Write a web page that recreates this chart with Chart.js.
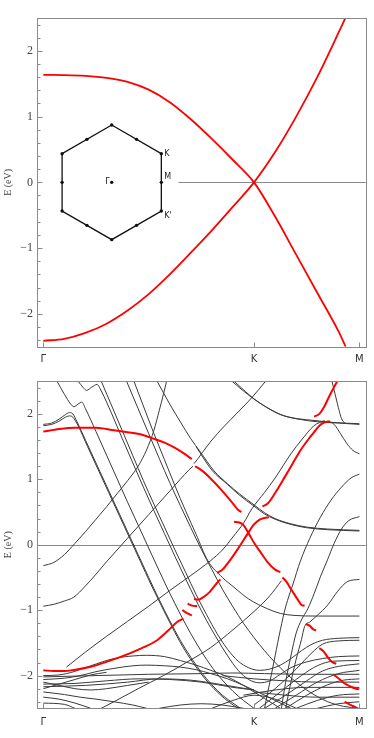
<!DOCTYPE html>
<html>
<head>
<meta charset="utf-8">
<script src="https://cdn.jsdelivr.net/npm/chart.js@4.4.1/dist/chart.umd.min.js"></script>
<style>
  html, body { margin: 0; padding: 0; background: #fff; }
  #wrap { position: relative; width: 374px; height: 738px; }
  canvas { position: absolute; left: 0; }
  #c1 { top: 0; }
  #c2 { top: 370px; }
</style>
</head>
<body>
<div id="wrap">
  <canvas id="c1" width="374" height="370"></canvas>
  <canvas id="c2" width="374" height="368"></canvas>
</div>
<script>
// k-path: Gamma = 0, K = 2, M = 3
var kTicks = [0, 2, 3];
var kLabels = ['\u0393', 'K', 'M'];
var eTicks = [-2, -1, 0, 1, 2];

// ---- top panel: pristine bands [k, E] ----
var topUpper = [[0,1.635],[0.2,1.632],[0.4,1.62],[0.6,1.59],[0.8,1.53],[1.0,1.41],[1.2,1.22],[1.4,0.96],[1.6,0.66],[1.8,0.34],[2.0,0],[2.2,-0.52],[2.4,-1.1],[2.6,-1.68],[2.8,-2.26],[2.87,-2.5]];
var topLower = [[0,-2.41],[0.2,-2.38],[0.4,-2.29],[0.6,-2.15],[0.8,-1.95],[1.0,-1.70],[1.2,-1.40],[1.4,-1.07],[1.6,-0.73],[1.8,-0.37],[2.0,0],[2.2,0.46],[2.4,1.0],[2.6,1.6],[2.78,2.2],[2.867,2.5]];

// Brillouin zone inset (unit hexagon)
var bzEdge = [[0,1],[0.866,0.5],[0.866,-0.5],[0,-1],[-0.866,-0.5],[-0.866,0.5],[0,1]];
var bzDots = [[0,1],[0.866,0.5],[0.866,-0.5],[0,-1],[-0.866,-0.5],[-0.866,0.5],
              [0.433,0.75],[0.866,0],[0.433,-0.75],[-0.433,-0.75],[-0.866,0],[-0.433,0.75],[0,0]];

// ---- bottom panel: unfolded (red) pieces ----
var red01 = [[0,1.73],[0.15,1.77],[0.3,1.79],[0.5,1.79],[0.67,1.75],[0.8,1.72],[0.92,1.69],[1.05,1.62],[1.15,1.56],[1.25,1.48],[1.33,1.4],[1.41,1.31]];
var red02 = [[1.44,1.2],[1.5,1.14],[1.59,1.01],[1.7,0.82],[1.8,0.63],[1.85,0.53],[1.88,0.5]];
var red03 = [[2.08,0.585],[2.13,0.63],[2.2,0.79],[2.29,1.03],[2.37,1.25],[2.44,1.44],[2.52,1.62],[2.57,1.72],[2.62,1.82],[2.67,1.87],[2.72,1.89]];
var red04 = [[2.57,1.96],[2.62,2.0],[2.67,2.12],[2.72,2.29],[2.79,2.5]];
var red05 = [[1.43,-0.83],[1.47,-0.84],[1.52,-0.8],[1.58,-0.72],[1.64,-0.6],[1.68,-0.53]];
var red06 = [[1.65,-0.43],[1.7,-0.38],[1.78,-0.22],[1.86,-0.03],[1.94,0.17],[2.0,0.31],[2.05,0.38],[2.1,0.41],[2.14,0.42]];
var red07 = [[1.37,-0.9],[1.41,-0.93],[1.46,-0.94]];
var red08 = [[1.32,-1.0],[1.36,-1.04],[1.41,-1.08]];
var red09 = [[0,-1.92],[0.1,-1.93],[0.2,-1.93],[0.3,-1.91],[0.44,-1.87],[0.6,-1.79],[0.82,-1.66],[0.95,-1.57],[1.08,-1.46],[1.18,-1.32],[1.27,-1.18],[1.33,-1.13]];
var red10 = [[1.81,0.35],[1.86,0.34],[1.9,0.3],[1.95,0.17],[2.0,0.03],[2.06,-0.11],[2.13,-0.27],[2.2,-0.38],[2.25,-0.42]];
var red11 = [[2.27,-0.5],[2.3,-0.55],[2.36,-0.7],[2.42,-0.85],[2.46,-0.93],[2.48,-0.93]];
var red12 = [[2.49,-1.21],[2.53,-1.24],[2.56,-1.29],[2.59,-1.31]];
var red13 = [[2.62,-1.58],[2.66,-1.63],[2.7,-1.72],[2.74,-1.79],[2.78,-1.82]];
var red14 = [[2.76,-1.99],[2.8,-2.04],[2.86,-2.12],[2.92,-2.17],[2.97,-2.2],[3.0,-2.21]];
var red15 = [[2.86,-2.4],[2.92,-2.45],[2.97,-2.49],[2.98,-2.5]];

// ---- bottom panel: supercell (black) bands ----
var bandG1 = [[0,1.84],[0.08,1.86],[0.15,1.92],[0.21,1.99],[0.25,2.02],[0.28,2.0],[0.32,1.88],[0.4,1.6],[0.5,1.25],[0.6,0.9],[0.7,0.55],[0.8,0.2],[0.9,-0.15],[1.0,-0.5],[1.1,-0.84],[1.2,-1.16],[1.3,-1.46],[1.4,-1.72],[1.5,-1.95],[1.6,-2.14],[1.7,-2.3],[1.8,-2.42],[1.87,-2.5]];
var bandG2 = [[0,1.82],[0.08,1.84],[0.15,1.89],[0.21,1.95],[0.25,1.97],[0.28,1.95],[0.33,1.82],[0.42,1.5],[0.52,1.15],[0.62,0.8],[0.72,0.45],[0.82,0.1],[0.92,-0.25],[1.02,-0.6],[1.12,-0.93],[1.22,-1.25],[1.32,-1.55],[1.42,-1.8],[1.52,-2.02],[1.62,-2.2],[1.72,-2.35],[1.82,-2.47],[1.85,-2.5]];
var bandT1 = [[0.13,2.5],[0.2,2.3],[0.26,2.15],[0.29,2.11],[0.33,2.15],[0.365,2.18],[0.4,2.08],[0.5,1.73],[0.6,1.37],[0.7,1.01],[0.8,0.65],[0.9,0.3],[1.0,-0.05],[1.1,-0.4],[1.2,-0.74],[1.3,-1.06],[1.4,-1.36],[1.5,-1.63],[1.6,-1.87],[1.7,-2.07],[1.8,-2.24],[1.9,-2.38],[2.0,-2.5]];
var bandT2 = [[0.33,2.5],[0.38,2.4],[0.41,2.36],[0.46,2.41],[0.51,2.45],[0.55,2.35],[0.65,2.0],[0.75,1.62],[0.85,1.25],[0.95,0.88],[1.05,0.52],[1.15,0.17],[1.25,-0.18],[1.35,-0.52],[1.45,-0.85],[1.55,-1.16],[1.65,-1.44],[1.75,-1.7],[1.85,-1.92],[1.95,-2.06],[2.05,-2.11],[2.15,-2.08],[2.25,-1.98],[2.35,-1.88],[2.5,-1.79],[2.65,-1.74],[2.8,-1.71],[3.0,-1.7]];
var bandT3 = [[0.55,2.5],[0.65,2.12],[0.75,1.74],[0.85,1.36],[0.95,0.98],[1.05,0.62],[1.15,0.27],[1.25,-0.08],[1.35,-0.42],[1.45,-0.76],[1.55,-1.07],[1.65,-1.36],[1.75,-1.6],[1.85,-1.78],[1.95,-1.88],[2.05,-1.92],[2.15,-1.9],[2.25,-1.84],[2.35,-1.74],[2.45,-1.62],[2.55,-1.52],[2.65,-1.46],[2.8,-1.43],[3.0,-1.42]];
var bandT4 = [[0.79,2.5],[0.9,2.08],[1.0,1.7],[1.1,1.32],[1.2,0.95],[1.3,0.6],[1.4,0.26],[1.5,-0.07],[1.6,-0.38],[1.7,-0.68],[1.8,-0.95],[1.9,-1.2],[2.0,-1.42],[2.1,-1.62],[2.2,-1.8],[2.3,-1.96],[2.4,-2.1],[2.5,-2.22],[2.6,-2.32],[2.7,-2.4],[2.85,-2.47],[3.0,-2.5]];
var bandT5 = [[0.86,2.5],[0.95,2.12],[1.05,1.7],[1.15,1.3],[1.25,0.9],[1.35,0.52],[1.45,0.16],[1.56,-0.24],[1.7,-0.5],[1.81,-0.65],[1.95,-0.83],[2.13,-0.98],[2.25,-1.05],[2.38,-1.08],[2.6,-1.09],[3.0,-1.09]];
var bandT6 = [[1.08,2.5],[1.2,2.15],[1.3,1.88],[1.4,1.62],[1.49,1.42],[1.62,1.13],[1.75,0.93],[1.86,0.78],[2.0,0.61],[2.1,0.49],[2.2,0.4],[2.35,0.32],[2.5,0.27],[2.7,0.24],[3.0,0.22]];
var bandT6b = [[1.45,1.5],[1.6,1.14],[1.75,0.92],[1.86,0.76],[2.0,0.59],[2.1,0.47],[2.2,0.39],[2.35,0.31],[2.5,0.26],[2.7,0.23],[3.0,0.21]];
var bandU1 = [[1.79,2.5],[1.9,2.35],[1.98,2.25],[2.1,2.12],[2.25,1.99],[2.4,1.93],[2.57,1.9],[2.75,1.87],[3.0,1.85]];
var bandU1b = [[1.81,2.5],[1.92,2.34],[2.0,2.23],[2.12,2.1],[2.27,1.98],[2.42,1.92],[2.6,1.88],[2.8,1.86],[3.0,1.84]];
var bandU2 = [[1.43,1.24],[1.47,1.32],[1.51,1.41],[1.6,1.6],[1.71,1.8],[1.85,2.03],[1.98,2.25],[2.11,2.5]];
var bandU3 = [[2.7,1.89],[2.76,1.84],[2.82,1.7],[2.88,1.55],[2.94,1.44],[3.0,1.39]];
var bandU4 = [[2.74,2.5],[2.77,2.3],[2.8,2.1],[2.83,1.93],[2.86,1.86]];
var bandA1 = [[0,-0.32],[0.1,-0.27],[0.2,-0.15],[0.3,0.02],[0.4,0.2],[0.5,0.39],[0.6,0.58],[0.7,0.78],[0.8,0.98],[0.9,1.2],[0.98,1.45],[1.05,1.75],[1.1,2.05],[1.14,2.3],[1.17,2.5]];
var bandA2 = [[0,-0.94],[0.1,-0.91],[0.2,-0.86],[0.29,-0.8],[0.4,-0.63],[0.5,-0.45],[0.6,-0.26],[0.7,-0.08],[0.8,0.1],[0.9,0.28],[1.0,0.46],[1.1,0.64],[1.2,0.82],[1.3,1.0],[1.38,1.14],[1.42,1.2]];
var bandA4 = [[0.22,-1.87],[0.4,-1.64],[0.6,-1.4],[0.8,-1.17],[1.0,-0.94],[1.2,-0.7],[1.4,-0.47],[1.59,-0.24],[1.7,-0.08],[1.8,0.12],[1.9,0.33],[1.98,0.55],[2.1,0.8],[2.2,1.02],[2.35,1.39],[2.45,1.6],[2.57,1.82],[2.67,1.9]];
var bandA5 = [[0.55,-2.5],[0.67,-2.4],[0.9,-2.2],[1.14,-2.0],[1.4,-1.76],[1.59,-1.57],[1.8,-1.3],[2.0,-1.02],[2.15,-0.78],[2.26,-0.55]];
var bandC1 = [[2.1,-2.5],[2.15,-2.1],[2.2,-1.7],[2.25,-1.3],[2.3,-0.95],[2.37,-0.6],[2.44,-0.25],[2.53,0.1],[2.63,0.42],[2.73,0.68],[2.83,0.88],[2.92,1.02],[3.0,1.08]];
var bandC2 = [[2.26,-2.5],[2.3,-2.1],[2.35,-1.7],[2.4,-1.35],[2.45,-1.15],[2.51,-0.98],[2.57,-0.75],[2.63,-0.49],[2.7,-0.22],[2.76,0.02],[2.83,0.24],[2.9,0.37],[3.0,0.43]];
var bandC3 = [[2.3,-2.5],[2.35,-2.1],[2.4,-1.75],[2.45,-1.45],[2.48,-1.25],[2.53,-1.18],[2.6,-1.08],[2.7,-0.92],[2.79,-0.72],[2.89,-0.56],[3.0,-0.53]];
var bandM1 = [[2.0,-2.45],[2.2,-2.2],[2.4,-1.9],[2.55,-1.65],[2.65,-1.52],[2.8,-1.47],[3.0,-1.46]];
var bandM2 = [[2.05,-2.5],[2.25,-2.25],[2.45,-2.0],[2.6,-1.85],[2.75,-1.78],[3.0,-1.77]];
var bandM3 = [[2.1,-2.5],[2.3,-2.3],[2.5,-2.08],[2.65,-1.93],[2.8,-1.86],[3.0,-1.82]];
var bandM4 = [[2.2,-2.5],[2.4,-2.3],[2.6,-2.1],[2.8,-1.97],[3.0,-1.92]];
var bandM5 = [[2.3,-2.5],[2.5,-2.3],[2.7,-2.14],[2.85,-2.07],[3.0,-2.05]];
var bandM6 = [[1.7,-2.0],[2.0,-2.05],[2.3,-2.08],[2.6,-2.1],[3.0,-2.1]];
var bandM7 = [[1.9,-2.3],[2.2,-2.22],[2.5,-2.18],[3.0,-2.18]];
var bandM8 = [[2.4,-2.5],[2.6,-2.38],[2.8,-2.3],[3.0,-2.28]];
var bandM9 = [[2.0,-2.25],[2.3,-2.3],[2.6,-2.33],[3.0,-2.33]];
var bandM10 = [[2.6,-2.5],[2.8,-2.43],[3.0,-2.4]];
var bandM11 = [[1.6,-2.5],[1.8,-2.38],[2.0,-2.3],[2.2,-2.36],[2.4,-2.5]];
var bandF1 = [[0,-2.0],[0.15,-1.99],[0.29,-1.94],[0.45,-1.85],[0.67,-1.74],[0.85,-1.7],[0.98,-1.69],[1.15,-1.71],[1.3,-1.77],[1.45,-1.84],[1.59,-1.92],[1.75,-2.02],[1.9,-2.15],[2.0,-2.25],[2.1,-2.35],[2.2,-2.45],[2.25,-2.5]];
var bandF2 = [[0,-2.06],[0.2,-2.04],[0.35,-2.0],[0.5,-1.94],[0.67,-1.89],[0.85,-1.85],[0.98,-1.84],[1.15,-1.85],[1.3,-1.87],[1.45,-1.91],[1.59,-1.97],[1.75,-2.05],[1.9,-2.15],[2.05,-2.26],[2.2,-2.38],[2.35,-2.5]];
var bandF3 = [[0,-2.02],[0.5,-2.0],[1.0,-1.98],[1.5,-1.97],[1.8,-1.96],[2.1,-1.97],[2.5,-1.98],[3.0,-1.98]];
var bandF4 = [[0,-2.13],[0.3,-2.12],[0.6,-2.08],[0.9,-2.05],[1.2,-2.06],[1.5,-2.1],[1.8,-2.18],[2.0,-2.22]];
var bandF5 = [[0,-2.17],[0.4,-2.15],[0.8,-2.1],[1.1,-2.05],[1.4,-2.07],[1.7,-2.14],[2.0,-2.22]];
var bandF6 = [[0,-2.25],[0.2,-2.29],[0.35,-2.33],[0.5,-2.36],[0.67,-2.4],[0.85,-2.45],[0.98,-2.5]];
var bandF7 = [[0,-2.33],[0.15,-2.36],[0.3,-2.42],[0.45,-2.5]];
var bandF8 = [[0,-2.42],[0.2,-2.44],[0.3,-2.5]];
var bandF9 = [[1.1,-2.5],[1.3,-2.45],[1.5,-2.43],[1.7,-2.45],[1.9,-2.5]];
var bandF10 = [[0,-2.2],[0.15,-2.13],[0.3,-2.06],[0.45,-1.99],[0.6,-1.95]];
var bandF11 = [[0,-2.1],[0.15,-2.15],[0.3,-2.2],[0.45,-2.22],[0.6,-2.2],[0.8,-2.15],[1.0,-2.1]];

var redBottom = [red01, red02, red03, red04, red05, red06, red07, red08, red09, red10, red11, red12, red13, red14, red15];
var blackBottom = [bandG1, bandG2, bandT1, bandT2, bandT3, bandT4, bandT5, bandT6, bandT6b, bandU1, bandU1b, bandU2, bandU3, bandU4,
  bandA1, bandA2, bandA4, bandA5, bandC1, bandC2, bandC3, bandM1, bandM2, bandM3, bandM4, bandM5, bandM6, bandM7, bandM8, bandM9, bandM10, bandM11,
  bandF1, bandF2, bandF3, bandF4, bandF5, bandF6, bandF7, bandF8, bandF9, bandF10, bandF11];

function pts(arr) {
  return arr.map(function(p) { return {x: p[0], y: p[1]}; });
}

function lineSet(arr, color, width) {
  return {
    data: pts(arr),
    showLine: true,
    borderColor: color,
    borderWidth: width,
    pointRadius: 0,
    fill: false,
    cubicInterpolationMode: 'monotone'
  };
}

// frame, inner ticks and the E = 0 reference line
var framePlugin = {
  id: 'frame',
  beforeDatasetsDraw: function(chart, args, opts) {
    var ctx = chart.ctx, a = chart.chartArea;
    var xs = chart.scales.x, ys = chart.scales.y;
    var y0 = Math.round(ys.getPixelForValue(0)) + 0.5;
    ctx.save();
    ctx.strokeStyle = '#8a8a8a';
    ctx.lineWidth = 1;
    ctx.beginPath();
    ctx.moveTo(xs.getPixelForValue(opts.zeroFrom), y0);
    ctx.lineTo(a.right, y0);
    ctx.stroke();
    ctx.restore();
  },
  afterDraw: function(chart) {
    var ctx = chart.ctx, a = chart.chartArea;
    var xs = chart.scales.x, ys = chart.scales.y;
    var L = Math.round(a.left) + 0.5, R = Math.round(a.right) + 0.5;
    var T = Math.round(a.top) + 0.5, B = Math.round(a.bottom) + 0.5;
    ctx.save();
    ctx.strokeStyle = '#8a8a8a';
    ctx.lineWidth = 1;
    ctx.strokeRect(L, T, R - L, B - T);
    ctx.beginPath();
    for (var i = -12; i <= 12; i++) {
      var py = Math.round(ys.getPixelForValue(i / 5)) + 0.5;
      var len = (i % 5 === 0) ? 5 : 3;
      ctx.moveTo(L, py);
      ctx.lineTo(L + len, py);
    }
    kTicks.forEach(function(k) {
      var px = Math.round(xs.getPixelForValue(k)) + 0.5;
      ctx.moveTo(px, B);
      ctx.lineTo(px, B - 5);
    });
    ctx.stroke();
    ctx.restore();
  }
};

// labels of the Brillouin zone inset
var bzLabelPlugin = {
  id: 'bzLabels',
  afterDatasetsDraw: function(chart) {
    if (!chart.scales.hx) return;
    var ctx = chart.ctx, hx = chart.scales.hx, hy = chart.scales.hy;
    ctx.save();
    ctx.fillStyle = '#222';
    ctx.font = '8px "DejaVu Sans"';
    ctx.textBaseline = 'middle';
    ctx.textAlign = 'left';
    ctx.fillText('K', hx.getPixelForValue(bzEdge[1][0]) + 3, hy.getPixelForValue(bzEdge[1][1]));
    ctx.fillText('M', hx.getPixelForValue(bzDots[7][0]) + 3, hy.getPixelForValue(bzDots[7][1]) - 5);
    ctx.fillText("K'", hx.getPixelForValue(bzEdge[2][0]) + 3, hy.getPixelForValue(bzEdge[2][1]) + 5);
    ctx.textAlign = 'right';
    ctx.fillText('\u0393', hx.getPixelForValue(0) - 2, hy.getPixelForValue(0));
    ctx.restore();
  }
};

function makeScales(xAxisHeight, xPad) {
  return {
    x: {
      type: 'linear', min: -0.06, max: 3.06,
      afterBuildTicks: function(s) { s.ticks = kTicks.map(function(v) { return {value: v}; }); },
      afterFit: function(s) { s.height = xAxisHeight; },
      ticks: {
        autoSkip: false, maxRotation: 0, padding: xPad, color: '#333',
        font: {family: 'DejaVu Sans', size: 10},
        callback: function(v) { return kLabels[kTicks.indexOf(v)]; }
      },
      grid: {display: false, drawTicks: false},
      border: {display: false}
    },
    y: {
      type: 'linear', min: -2.5, max: 2.5,
      afterBuildTicks: function(s) { s.ticks = eTicks.map(function(v) { return {value: v}; }); },
      afterFit: function(s) { s.width = 37; },
      ticks: {
        padding: 4, color: '#444',
        font: {family: 'Liberation Serif', size: 12},
        callback: function(v) { return v < 0 ? '\u2212' + Math.abs(v) : String(v); }
      },
      grid: {display: false, drawTicks: false},
      border: {display: false},
      title: {
        display: true, text: 'E (eV)', color: '#444',
        font: {family: 'Liberation Serif', size: 10},
        padding: {top: 2, bottom: 0}
      }
    }
  };
}

function baseOptions(scales, pad, zeroFrom) {
  return {
    responsive: false,
    animation: false,
    events: [],
    layout: {padding: pad},
    scales: scales,
    plugins: {
      legend: {display: false},
      tooltip: {enabled: false},
      frame: {zeroFrom: zeroFrom}
    }
  };
}

document.addEventListener('DOMContentLoaded', function() {
  graphTop();
  graphBottom();
});

function graphTop() {
  var scales = makeScales(23.3, 7);
  scales.hx = {type: 'linear', display: false, min: -1.304, max: 4.433};
  scales.hy = {type: 'linear', display: false, min: -2.868, max: 2.868};

  var hexLine = lineSet(bzEdge, '#111', 1.3);
  hexLine.cubicInterpolationMode = 'default';
  hexLine.tension = 0;
  hexLine.xAxisID = 'hx';
  hexLine.yAxisID = 'hy';
  var hexDots = {
    data: pts(bzDots), showLine: false, pointRadius: 1.7,
    pointBackgroundColor: '#111', pointBorderWidth: 0,
    xAxisID: 'hx', yAxisID: 'hy'
  };

  var ctx1 = document.getElementById('c1').getContext('2d');
  new Chart(ctx1, {
    type: 'scatter',
    data: {
      datasets: [
        lineSet(topUpper, '#ff0000', 1.8),
        lineSet(topLower, '#ff0000', 1.8),
        hexLine,
        hexDots
      ]
    },
    options: baseOptions(scales, {left: 0, top: 18, right: 8.3, bottom: 0}, 1.283),
    plugins: [framePlugin, bzLabelPlugin]
  });
}

function graphBottom() {
  var sets = [];
  redBottom.forEach(function(r) { sets.push(lineSet(r, '#ff0000', 2)); });
  blackBottom.forEach(function(b) { sets.push(lineSet(b, '#3a3a3a', 1)); });

  var ctx2 = document.getElementById('c2').getContext('2d');
  new Chart(ctx2, {
    type: 'scatter',
    data: {datasets: sets},
    options: baseOptions(makeScales(29.7, 8), {left: 0, top: 10.7, right: 8.3, bottom: 0}, -0.06),
    plugins: [framePlugin]
  });
}
</script>
</body>
</html>
